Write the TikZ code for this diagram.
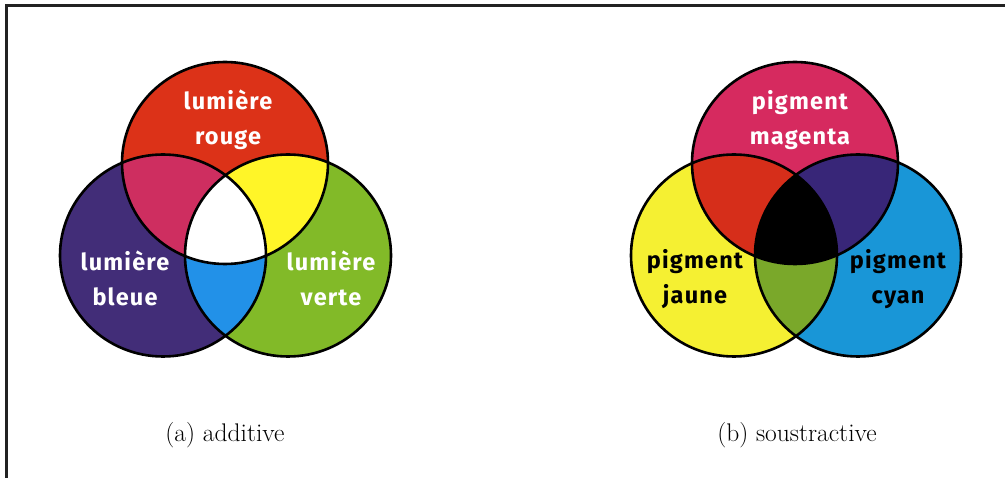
\documentclass[tikz,border=0pt]{standalone}
\usepackage{fontspec}
\newfontfamily\vennfont{Fira Sans}[LetterSpace=5]

% additive primaries and mixtures
\definecolor{addR}{RGB}{220,50,24}
\definecolor{addB}{RGB}{66,45,120}
\definecolor{addG}{RGB}{130,186,40}
\definecolor{addRB}{RGB}{206,46,96}
\definecolor{addRG}{RGB}{255,245,40}
\definecolor{addBG}{RGB}{34,145,232}
% subtractive primaries and mixtures
\definecolor{subM}{RGB}{214,42,95}
\definecolor{subY}{RGB}{245,240,50}
\definecolor{subC}{RGB}{25,150,215}
\definecolor{subMY}{RGB}{214,46,26}
\definecolor{subMC}{RGB}{56,38,120}
\definecolor{subYC}{RGB}{122,168,42}
\definecolor{framegray}{RGB}{34,34,34}

\def\rx{103pt}
\def\ry{101pt}

\tikzset{
  disc/.style={fill=#1},
  rim/.style={draw=black, line width=2.6pt},
  lbl/.style={font=\vennfont\bfseries\fontsize{23.5}{35}\selectfont, align=center, inner sep=0pt},
  captiontext/.style={font=\fontsize{25.5}{30}\selectfont, inner sep=0pt},
}

\begin{document}
\begin{tikzpicture}[x=1pt,y=-1pt]
\useasboundingbox (0,0) rectangle (1005,478);
\fill[white] (0,0) rectangle (1005,478);
\draw[framegray, line width=3pt] (6,478) -- (6,6) -- (1005,6);

% ---------- additive synthesis ----------
\coordinate (R) at (225,163);
\coordinate (B) at (163,255.5);
\coordinate (G) at (288,255.5);
\fill[disc=addR] (R) ellipse[x radius=\rx, y radius=\ry];
\fill[disc=addB] (B) ellipse[x radius=\rx, y radius=\ry];
\fill[disc=addG] (G) ellipse[x radius=\rx, y radius=\ry];
\begin{scope}
  \clip (R) ellipse[x radius=\rx, y radius=\ry];
  \fill[disc=addRB] (B) ellipse[x radius=\rx, y radius=\ry];
  \fill[disc=addRG] (G) ellipse[x radius=\rx, y radius=\ry];
\end{scope}
\begin{scope}
  \clip (B) ellipse[x radius=\rx, y radius=\ry];
  \fill[disc=addBG] (G) ellipse[x radius=\rx, y radius=\ry];
  \clip (G) ellipse[x radius=\rx, y radius=\ry];
  \fill[disc=white] (R) ellipse[x radius=\rx, y radius=\ry];
\end{scope}
\draw[rim] (R) ellipse[x radius=\rx, y radius=\ry];
\draw[rim] (B) ellipse[x radius=\rx, y radius=\ry];
\draw[rim] (G) ellipse[x radius=\rx, y radius=\ry];

\node[lbl, text=white] (lR) at (228,120) {lumière\\rouge};
\node[lbl, text=white] (lB) at (125,278) {lumière\\bleue};
\node[lbl, text=white] (lG) at (331,278) {lumière\\verte};
\node[captiontext] (capA) at (225,435) {(a) additive};

% ---------- subtractive synthesis ----------
\coordinate (M) at (795,163);
\coordinate (Y) at (734,255.5);
\coordinate (C) at (858,255.5);
\fill[disc=subM] (M) ellipse[x radius=\rx, y radius=\ry];
\fill[disc=subY] (Y) ellipse[x radius=\rx, y radius=\ry];
\fill[disc=subC] (C) ellipse[x radius=\rx, y radius=\ry];
\begin{scope}
  \clip (M) ellipse[x radius=\rx, y radius=\ry];
  \fill[disc=subMY] (Y) ellipse[x radius=\rx, y radius=\ry];
  \fill[disc=subMC] (C) ellipse[x radius=\rx, y radius=\ry];
\end{scope}
\begin{scope}
  \clip (Y) ellipse[x radius=\rx, y radius=\ry];
  \fill[disc=subYC] (C) ellipse[x radius=\rx, y radius=\ry];
  \clip (C) ellipse[x radius=\rx, y radius=\ry];
  \fill[disc=black] (M) ellipse[x radius=\rx, y radius=\ry];
\end{scope}
\draw[rim] (M) ellipse[x radius=\rx, y radius=\ry];
\draw[rim] (Y) ellipse[x radius=\rx, y radius=\ry];
\draw[rim] (C) ellipse[x radius=\rx, y radius=\ry];

\node[lbl, text=white] (lM) at (800,120) {pigment\\magenta};
\node[lbl, text=black] (lY) at (695,279) {pigment\\jaune};
\node[lbl, text=black] (lC) at (898,279) {pigment\\cyan};
\node[captiontext] (capB) at (797,435) {(b) soustractive};
\end{tikzpicture}
\end{document}
